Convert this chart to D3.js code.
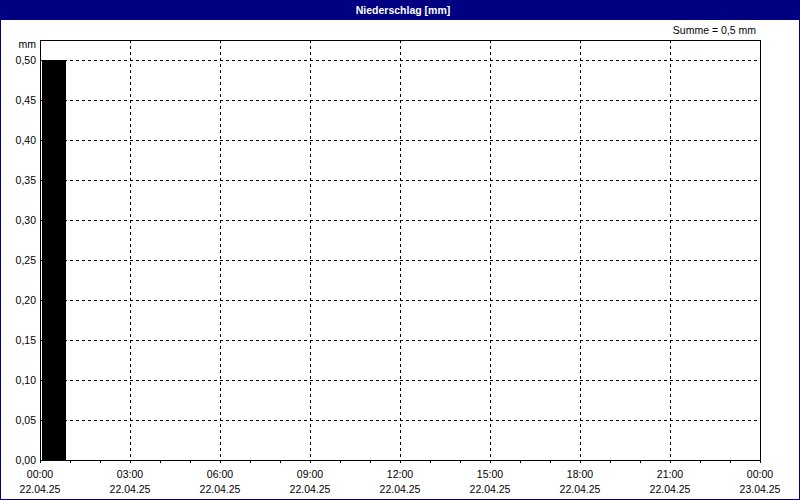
<!DOCTYPE html>
<html>
<head>
<meta charset="utf-8">
<script src="https://cdn.jsdelivr.net/npm/d3@7"></script>
<style>
  body { margin: 0; background: #fff; }
  svg text { font-family: "Liberation Sans", Arial, sans-serif; font-size: 10.5px; fill: #000; }
</style>
</head>
<body>
<script>
'use strict';

// hourly precipitation on 22.04.25, mm
const hours = d3.range(0, 24);
const rain = [0.5, 0, 0, 0, 0, 0, 0, 0, 0, 0, 0, 0, 0, 0, 0, 0, 0, 0, 0, 0, 0, 0, 0, 0];
const yTicks = [0, 0.05, 0.1, 0.15, 0.2, 0.25, 0.3, 0.35, 0.4, 0.45, 0.5];
const xTickHours = [0, 3, 6, 9, 12, 15, 18, 21, 24];
const xTimeLabels = ['00:00', '03:00', '06:00', '09:00', '12:00', '15:00', '18:00', '21:00', '00:00'];
const xDateLabels = ['22.04.25', '22.04.25', '22.04.25', '22.04.25', '22.04.25', '22.04.25', '22.04.25', '22.04.25', '23.04.25'];
const title = 'Niederschlag [mm]';
const sumText = 'Summe = 0,5 mm';

const W = 800, H = 500;
const m = { left: 40, right: 760, top: 40, bottom: 460 };
const fmt = v => d3.format('.2f')(v).replace('.', ',');

const svg = d3.select('body').append('svg')
	.attr('width', W).attr('height', H);

// title bar + frame
svg.append('rect').attr('x', 0).attr('y', 0).attr('width', W).attr('height', 20).attr('fill', '#000080');
svg.append('rect').attr('x', 0.5).attr('y', 0.5).attr('width', W - 1).attr('height', H - 1)
	.attr('fill', 'none').attr('stroke', '#000080');
svg.append('text').attr('x', 403).attr('y', 14).attr('text-anchor', 'middle')
	.style('fill', '#fff').style('font-weight', 'bold').text(title);

const x = d3.scaleLinear().domain([0, 24]).range([m.left, m.right]);
const y = d3.scaleLinear().domain([0, 0.525]).range([m.bottom, m.top]);

// grid
svg.append('g').selectAll('line').data(yTicks.filter(d => d > 0)).enter().append('line')
	.attr('x1', m.left).attr('x2', m.right)
	.attr('y1', d => Math.round(y(d)) + 0.5).attr('y2', d => Math.round(y(d)) + 0.5)
	.attr('stroke', '#000').attr('stroke-dasharray', '3,3');
svg.append('g').selectAll('line').data(xTickHours.filter(d => d > 0 && d < 24)).enter().append('line')
	.attr('x1', d => Math.round(x(d)) + 0.5).attr('x2', d => Math.round(x(d)) + 0.5)
	.attr('y1', m.top).attr('y2', m.bottom)
	.attr('stroke', '#000').attr('stroke-dasharray', '3,3');

// bars
svg.append('g').selectAll('rect').data(hours).enter().append('rect')
	.attr('x', d => x(d) + 2)
	.attr('width', d => (x(d + 1) - x(d)) * 0.8)
	.attr('y', (d, i) => y(rain[i]))
	.attr('height', (d, i) => y(0) - y(rain[i]))
	.attr('fill', '#000');

// plot frame
svg.append('rect').attr('x', m.left + 0.5).attr('y', m.top + 0.5)
	.attr('width', m.right - m.left).attr('height', m.bottom - m.top)
	.attr('fill', 'none').attr('stroke', '#000');

// hour ticks under the axis
svg.append('g').selectAll('line').data(d3.range(0, 25)).enter().append('line')
	.attr('x1', d => Math.round(x(d)) + 0.5).attr('x2', d => Math.round(x(d)) + 0.5)
	.attr('y1', m.bottom).attr('y2', m.bottom + 3)
	.attr('stroke', '#000');

// y labels
svg.append('g').selectAll('text').data(yTicks).enter().append('text')
	.attr('x', 36).attr('y', d => y(d) + 4).attr('text-anchor', 'end')
	.text(fmt);
svg.append('text').attr('x', 36).attr('y', 48).attr('text-anchor', 'end').text('mm');
svg.append('text').attr('x', 756).attr('y', 34).attr('text-anchor', 'end').text(sumText);

// x labels
svg.append('g').selectAll('text').data(xTickHours).enter().append('text')
	.attr('x', d => x(d)).attr('y', 478).attr('text-anchor', 'middle')
	.text((d, i) => xTimeLabels[i]);
svg.append('g').selectAll('text').data(xTickHours).enter().append('text')
	.attr('x', d => x(d)).attr('y', 493).attr('text-anchor', 'middle')
	.text((d, i) => xDateLabels[i]);
</script>
</body>
</html>
